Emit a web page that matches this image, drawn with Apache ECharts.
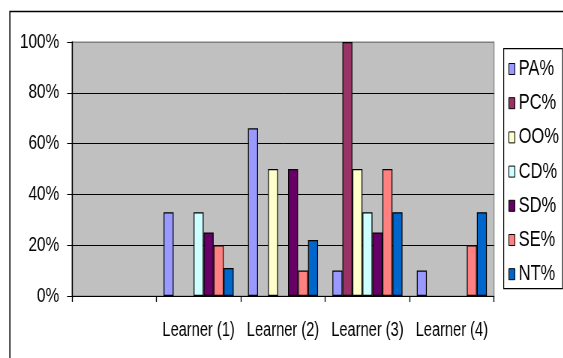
<!DOCTYPE html>
<html>
<head>
<meta charset="utf-8">
<script src="https://cdn.jsdelivr.net/npm/echarts@6/dist/echarts.min.js"></script>
<style>
  html, body { margin: 0; padding: 0; background: #fff; overflow: hidden; }
  #wrap { width: 563px; height: 358px; overflow: hidden; }
  /* chart is laid out wide and condensed horizontally for narrow-looking type */
  #chart { width: 751px; height: 358px; transform: scaleX(0.75); transform-origin: 0 0; }
</style>
</head>
<body>
<div id="wrap"><div id="chart"></div></div>
<script>
// Learner categories (the first slot is left empty, as in the workbook chart)
const categories = ['', 'Learner (1)', 'Learner (2)', 'Learner (3)', 'Learner (4)'];
const seriesNames = ['PA%', 'PC%', 'OO%', 'CD%', 'SD%', 'SE%', 'NT%'];

// Percentages per learner
const PA = [0, 33, 66, 10, 10];
const PC = [0, 0, 0, 100, 0];
const OO = [0, 0, 50, 50, 0];
const CD = [0, 33, 0, 33, 0];
const SD = [0, 25, 50, 25, 0];
const SE = [0, 20, 10, 50, 20];
const NT = [0, 11, 22, 33, 33];

const yTicks = [0, 20, 40, 60, 80, 100];

const values = [PA, PC, OO, CD, SD, SE, NT];
const colors = ['#9999FF', '#993366', '#FFFFCC', '#CCFFFF', '#660066', '#FF8080', '#0066CC'];

const FONT = '"Liberation Sans", Arial, sans-serif';

const chart = echarts.init(document.getElementById('chart'), null, { renderer: 'canvas' });

chart.setOption({
  animation: false,
  backgroundColor: '#ffffff',
  textStyle: { fontFamily: FONT },
  graphic: [
    // outer chart frame
    { type: 'rect', left: 10.7, top: 9, shape: { width: 900, height: 500 },
      style: { fill: 'none', stroke: '#000', lineWidth: 1.6 }, z: 0 },
    // legend frame
    { type: 'rect', left: 671, top: 48, shape: { width: 78.5, height: 240 },
      style: { fill: '#fff', stroke: '#000', lineWidth: 1.2 }, z: 1 }
  ],
  grid: {
    left: 96, right: 92.3, top: 42, bottom: 62,
    show: true, backgroundColor: '#C0C0C0', borderColor: '#808080', borderWidth: 1.2
  },
  legend: {
    orient: 'vertical',
    left: 678, top: 58,
    itemWidth: 8, itemHeight: 11, itemGap: 12.2, itemTextGap: 2.7,
    padding: 0,
    icon: 'rect',
    data: seriesNames,
    itemStyle: { borderColor: '#000', borderWidth: 1 },
    textStyle: { fontFamily: FONT, fontSize: 22, lineHeight: 22, color: '#000' },
    z: 5
  },
  xAxis: {
    type: 'category',
    data: categories,
    axisLine: { lineStyle: { color: '#000', width: 1 } },
    axisTick: { show: true, length: 6, alignWithLabel: false, lineStyle: { color: '#000', width: 1.33 } },
    axisLabel: { margin: 25, fontSize: 19.5, color: '#000', fontFamily: FONT, interval: 0 },
    splitLine: { show: false }
  },
  yAxis: {
    type: 'value',
    min: yTicks[0], max: yTicks[yTicks.length - 1], interval: 20,
    axisLine: { show: true, lineStyle: { color: '#000', width: 1.33 } },
    axisTick: { show: true, length: 6.5, lineStyle: { color: '#000' } },
    axisLabel: { margin: 17, fontSize: 20.5, color: '#000', fontFamily: FONT, formatter: '{value}%' },
    splitLine: { show: true, lineStyle: { color: ['#000', '#000', '#000', '#000', '#000', '#808080'], width: 1 } }
  },
  series: seriesNames.map((name, i) => ({
    name: name,
    type: 'bar',
    // empty shares are left undrawn
    data: values[i].map(v => (v === 0 ? '-' : v)),
    barGap: '0%',
    barCategoryGap: '17%',
    itemStyle: { color: colors[i], borderColor: '#000', borderWidth: 1.2 }
  }))
});
</script>
</body>
</html>
